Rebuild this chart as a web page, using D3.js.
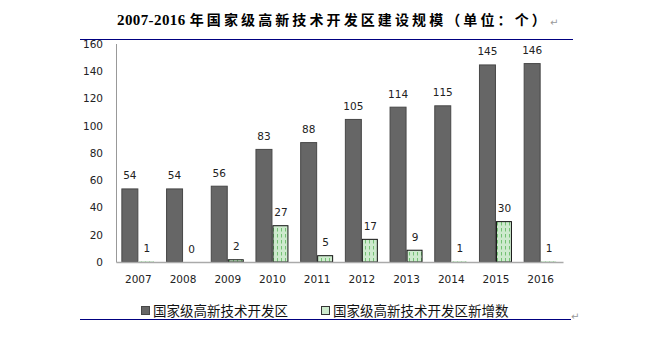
<!DOCTYPE html>
<html><head><meta charset="utf-8">
<script src="https://cdn.jsdelivr.net/npm/d3@7"></script>
<style>body{margin:0;background:#fff}svg{display:block}</style>
</head><body>
<svg id="c" width="657" height="338"></svg>
<script>
const years = ["2007","2008","2009","2010","2011","2012","2013","2014","2015","2016"];
const totalZones = [54,54,56,83,88,105,114,115,145,146];
const newZones = [1,0,2,27,5,17,9,1,30,1];
const yTicks = [0,20,40,60,80,100,120,140,160];
const seriesNames = ["国家级高新技术开发区","国家级高新技术开发区新增数"];
const titleLatin = "2007-2016 ";
const titleCJK = "年国家级高新技术开发区建设规模（单位：个）";

const svg = d3.select("#c");
const defs = svg.append("defs");
const pat = defs.append("pattern").attr("id","gp").attr("patternUnits","userSpaceOnUse")
  .attr("width",4).attr("height",6);
pat.append("rect").attr("width",4).attr("height",6).attr("fill","#cdeacd");
pat.append("line").attr("x1",1.5).attr("x2",1.5).attr("y1",0).attr("y2",3.5)
  .attr("stroke","#74c074").attr("stroke-width",1);

const x = d3.scaleBand().domain(years).range([116,563]).paddingInner(0.24).paddingOuter(0.12);
const sub = d3.scaleBand().domain([0,1]).range([0,x.bandwidth()]);
const y = d3.scaleLinear().domain([0,160]).range([262,44]);

// title
const t = svg.append("text").attr("x",117).attr("y",25).attr("font-weight","bold").attr("fill","#000");
t.append("tspan").attr("font-family","'Liberation Serif',serif").attr("font-size",15).attr("letter-spacing","0.4px").text(titleLatin);
t.append("tspan").attr("font-family","'Noto Sans CJK SC',sans-serif").attr("font-size",14)
  .attr("letter-spacing","3.1px").text(titleCJK);
svg.append("text").attr("x",550).attr("y",26).attr("font-size",10).attr("fill","#999")
  .attr("font-family","'DejaVu Sans',sans-serif").text("↵");

// rules
svg.append("line").attr("x1",80).attr("x2",573).attr("y1",39.5).attr("y2",39.5).attr("stroke","#000080");
svg.append("line").attr("x1",80).attr("x2",571).attr("y1",319.5).attr("y2",319.5).attr("stroke","#000080");
svg.append("text").attr("x",571).attr("y",320).attr("font-size",10).attr("fill","#999")
  .attr("font-family","'DejaVu Sans',sans-serif").text("↵");

const lab = {"font-family":"'DejaVu Sans',sans-serif","font-size":10.5,"fill":"#222","text-anchor":"middle"};

// total bars
const g1 = svg.append("g");
g1.selectAll("rect").data(years).join("rect")
  .attr("x",(d)=>x(d)+sub(0)+0.5).attr("width",sub.bandwidth()-1)
  .attr("y",(d,i)=>y(totalZones[i])+0.5).attr("height",(d,i)=>y(0)-y(totalZones[i])-0.5)
  .attr("fill","#666").attr("stroke","#474747");
g1.selectAll("text").data(years).join("text")
  .attr("x",(d)=>x(d)+sub(0)+sub.bandwidth()/2).attr("y",(d,i)=>y(totalZones[i])-9)
  .each(function(){const s=d3.select(this);for(const k in lab)s.attr(k,lab[k]);})
  .text((d,i)=>totalZones[i]);

// new bars
const g2 = svg.append("g");
g2.selectAll("rect").data(years).join("rect")
  .attr("x",(d)=>x(d)+sub(1)+0.5).attr("width",sub.bandwidth()-2)
  .attr("y",(d,i)=>y(newZones[i])+0.5).attr("height",(d,i)=>Math.max(0,y(0)-y(newZones[i])-0.5))
  .attr("fill","url(#gp)").attr("stroke",(d,i)=>newZones[i]>1?"#111":"none");
g2.selectAll("text").data(years).join("text")
  .attr("x",(d)=>x(d)+sub(1)+sub.bandwidth()/2).attr("y",(d,i)=>y(newZones[i])-9)
  .each(function(){const s=d3.select(this);for(const k in lab)s.attr(k,lab[k]);})
  .text((d,i)=>newZones[i]);

// y axis
const ya = svg.append("g").attr("transform","translate(116,0)")
  .call(d3.axisLeft(y).tickValues(yTicks).tickSize(0).tickPadding(13));
ya.select(".domain").attr("stroke","#999").attr("d","M0.5,44V262.5");
ya.selectAll("text").attr("font-family","'DejaVu Sans',sans-serif").attr("font-size",10.5).attr("fill","#222");

// x axis
const xa = svg.append("g").attr("transform","translate(0,262)")
  .call(d3.axisBottom(x).tickSize(0).tickPadding(14));
xa.select(".domain").attr("stroke","#aaa").attr("stroke-width",1.5);
xa.selectAll("text").attr("font-family","'DejaVu Sans',sans-serif").attr("font-size",10.5).attr("fill","#222");

// legend
const legX = [141,321];
const lg = svg.append("g");
seriesNames.forEach((n,i)=>{
  lg.append("rect").attr("x",legX[i]+0.5).attr("y",306.5).attr("width",8).attr("height",8)
    .attr("fill",i===0?"#666":"#cdeacd").attr("stroke",i===0?"#474747":"#333");
  lg.append("text").attr("x",legX[i]+12).attr("y",315.5)
    .attr("font-family","'Noto Sans CJK SC',sans-serif").attr("font-size",13.5).attr("fill","#111").text(n);
});
</script>
</body></html>
